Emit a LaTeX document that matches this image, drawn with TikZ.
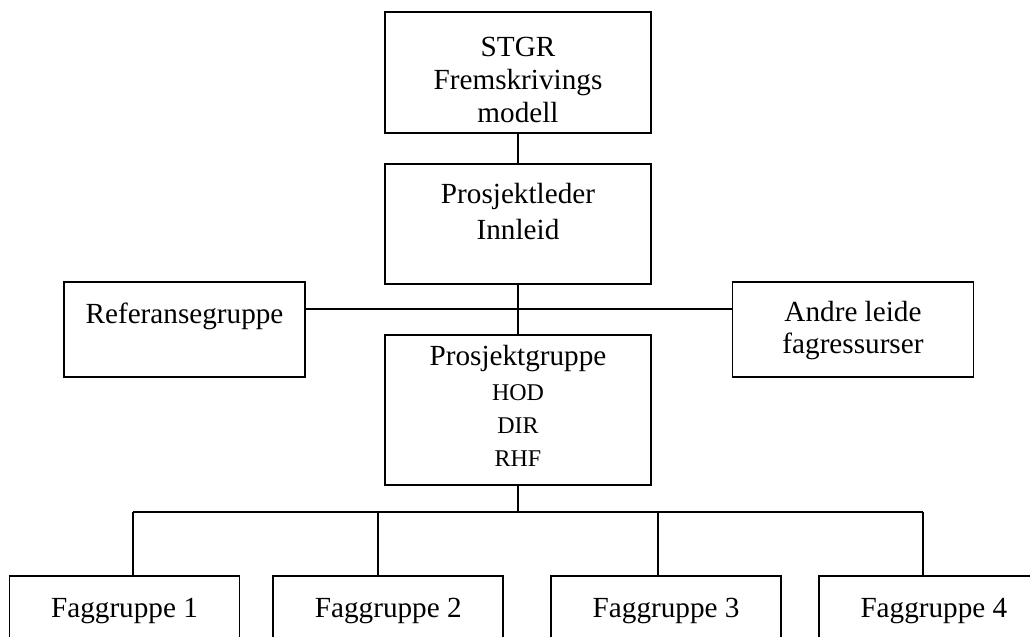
\documentclass[tikz,border=0pt]{standalone}
\usepackage{fontspec}
\setmainfont{Liberation Serif}
\usetikzlibrary{positioning}
\newcommand{\smallfont}{\fontsize{12}{15}\selectfont}

\begin{document}
\begin{tikzpicture}[
            x=0.5pt, y=-0.5pt,
            node distance=16pt,
            box/.style={rectangle, draw, line width=0.9pt, inner sep=0pt, minimum width=133pt, align=center, font=\fontsize{14.6}{16.5}\selectfont},
            sidebox/.style={box, minimum width=120.5pt, minimum height=47.5pt},
            fagbox/.style={box, minimum width=115pt, minimum height=47.5pt, text height=20.5pt, text depth=27pt},
            conn/.style={line width=0.9pt}
        ]
            \useasboundingbox (0,0) rectangle (1030,637);
            \clip (0,0) rectangle (1030,637);

            \node[box, minimum height=60.5pt, text height=55pt, text depth=5.5pt] (stgr) at (518,72.5) {STGR\\Fremskrivings\\modell};
            \node[box, minimum height=60pt, text height=38pt, text depth=22pt, below=14.5pt of stgr] (leder) {Prosjektleder\\[1.5pt]Innleid};
            \node[box, minimum height=75pt, text height=66pt, text depth=9pt, below=24.5pt of leder] (pgruppe) {Prosjektgruppe\\[1pt]\smallfont HOD\\\smallfont DIR\\\smallfont RHF};
            \node[sidebox, text height=20.5pt, text depth=27pt] (ref) at (184.5,329.5) {Referansegruppe};
            \node[sidebox, text height=35.5pt, text depth=12pt] (andre) at (853,329.5) {Andre leide\\[-0.5pt]fagressurser};
            \node[fagbox] (fag1) at (124.5,623.5) {Faggruppe 1};
            \node[fagbox, right=16pt of fag1] (fag2) {Faggruppe 2};
            \node[fagbox, right=23pt of fag2] (fag3) {Faggruppe 3};
            \node[fagbox, right=18pt of fag3] (fag4) {Faggruppe 4};

            \coordinate (hub) at (518,309);
            \coordinate (bus) at (518,512);
            \coordinate (b1) at (133,512);
            \coordinate (b2) at (378,512);
            \coordinate (b3) at (658,512);
            \coordinate (b4) at (923,512);

            \draw[conn] (stgr) -- (leder);
            \draw[conn] (leder) -- (pgruppe);
            \draw[conn] (ref.east |- hub) -- (andre.west |- hub);
            \draw[conn] (pgruppe) -- (bus);
            \draw[conn] (b1) -- (b4);
            \draw[conn] (b1) -- (b1 |- fag1.north);
            \draw[conn] (b2) -- (b2 |- fag2.north);
            \draw[conn] (b3) -- (b3 |- fag3.north);
            \draw[conn] (b4) -- (b4 |- fag4.north);
        \end{tikzpicture}
\end{document}
